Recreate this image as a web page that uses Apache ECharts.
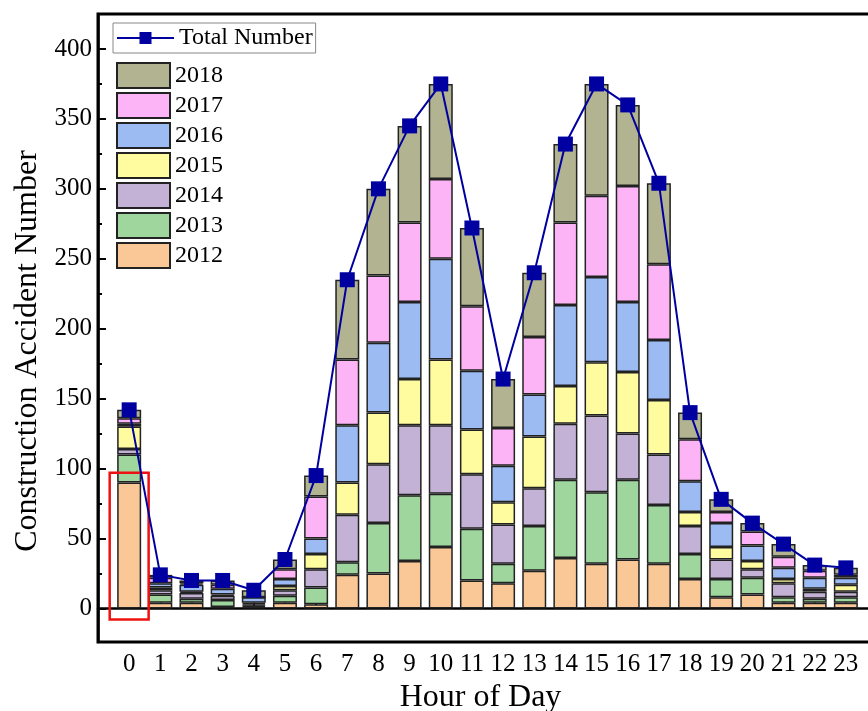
<!DOCTYPE html>
<html>
<head>
<meta charset="utf-8">
<script src="https://cdn.jsdelivr.net/npm/echarts@6/dist/echarts.min.js"></script>
<style>html,body{margin:0;padding:0;background:#fff;}#c{width:868px;height:711px;}</style>
</head>
<body>
<div id="c"></div>
<script>
const hours = ['0','1','2','3','4','5','6','7','8','9','10','11','12','13','14','15','16','17','18','19','20','21','22','23'];
const y2012 = [90,4,4,1,1,4,3,24,25,34,44,20,18,27,36,32,35,32,21,8,10,4,4,4];
const y2013 = [20,6,3,5,1,5,12,9,36,47,38,37,14,32,56,51,57,42,18,13,12,4,3,4];
const y2014 = [4,3,4,3,1,4,13,34,42,50,49,39,28,27,40,55,33,36,20,14,6,10,5,4];
const y2015 = [16,2,1,1,1,3,11,23,37,33,47,32,16,37,27,38,44,39,10,9,6,3,2,5];
const y2016 = [2,3,5,4,4,5,11,41,50,55,72,42,26,30,58,61,50,43,22,17,11,8,8,5];
const y2017 = [4,4,1,3,0,7,30,47,48,57,57,46,27,41,59,58,83,54,30,8,10,8,5,2];
const y2018 = [6,2,2,3,5,7,15,57,62,69,68,56,35,46,56,80,58,58,19,9,6,9,4,5];
const totals = [142,24,20,20,13,35,95,235,300,345,375,272,164,240,332,375,360,304,140,78,61,46,31,29];
const yMajorTicks = [0,50,100,150,200,250,300,350,400];
const yMinorTicks = [25,75,125,175,225,275,325,375];
const highlight = [['0', -8, 97]];

const years = ['2012','2013','2014','2015','2016','2017','2018'];
const yearData = [y2012,y2013,y2014,y2015,y2016,y2017,y2018];
const colors = ['#FAC896','#9ED69E','#C3B2D5','#FFFC9F','#9BBBF2','#FCB4F6','#B2B491'];

const xCats = [''].concat(hours, ['']);
const pad = arr => [null].concat(arr, [null]);
const FONT = 'Liberation Serif';

const series = years.map((y, i) => ({
  name: y, type: 'bar', stack: 'total', barWidth: 24, z: 2,
  data: pad(yearData[i]),
  itemStyle: { color: colors[i], borderColor: '#222', borderWidth: 1.5 }
}));
series.push({
  type: 'custom', z: 3, silent: true,
  data: highlight,
  encode: { x: 0, y: [1, 2] },
  renderItem: function (params, api) {
    const top = api.coord([api.value(0), api.value(2)]);
    const bot = api.coord([api.value(0), api.value(1)]);
    const w = api.size([1, 0])[0] * 1.25;
    return { type: 'rect', shape: { x: top[0] - w / 2, y: top[1], width: w, height: bot[1] - top[1] },
      style: { fill: 'none', stroke: '#EE1111', lineWidth: 2.5 } };
  }
});
series.push({
  name: 'Total Number', type: 'line', z: 5,
  data: pad(totals),
  symbol: 'rect', symbolSize: 15,
  itemStyle: { color: '#0000A0' },
  lineStyle: { color: '#0000A0', width: 2 }
});

const chart = echarts.init(document.getElementById('c'), null, { renderer: 'canvas' });
chart.setOption({
  animation: false,
  backgroundColor: '#fff',
  textStyle: { fontFamily: FONT, color: '#000' },
  grid: { left: 98, top: 14, width: 779, height: 628, outerBoundsMode: 'none', containLabel: false,
    show: true, borderColor: '#000', borderWidth: 3, backgroundColor: 'transparent' },
  legend: [
    { data: ['Total Number'], left: 113, top: 23, orient: 'vertical', itemWidth: 57, itemHeight: 15,
      padding: [3, 3, 3, 3], borderColor: '#888', borderWidth: 1, itemGap: 0,
      textStyle: { fontFamily: FONT, fontSize: 24, color: '#000' } },
    { data: ['2018','2017','2016','2015','2014','2013','2012'], left: 116, top: 62, orient: 'vertical',
      icon: 'rect', itemWidth: 53, itemHeight: 25, itemGap: 3, padding: 0,
      textStyle: { fontFamily: FONT, fontSize: 24, color: '#000', lineHeight: 26 } }
  ],
  xAxis: {
    type: 'category', data: xCats, boundaryGap: false,
    name: 'Hour of Day', nameLocation: 'middle', nameGap: 38,
    nameTextStyle: { fontFamily: FONT, fontSize: 32, color: '#000', padding: [0, 14, 0, 0] },
    axisLine: { lineStyle: { color: '#000', width: 2.5 } },
    axisTick: { inside: true, length: 6, lineStyle: { color: '#000', width: 2 }, interval: (i, v) => v !== '' },
    axisLabel: { interval: 0, margin: 10, fontFamily: FONT, fontSize: 25, color: '#000' },
    splitLine: { show: false }
  },
  yAxis: [
    {
      type: 'value', min: -24, max: 425,
      name: 'Construction Accident Number', nameLocation: 'middle', nameGap: 46,
      nameTextStyle: { fontFamily: FONT, fontSize: 32, color: '#000', padding: [0, 46, 0, 0] },
      axisLine: { show: true, lineStyle: { color: '#000', width: 2.5 } },
      axisTick: { show: true, inside: true, length: 8, customValues: yMajorTicks, lineStyle: { color: '#000', width: 2 } },
      axisLabel: { customValues: yMajorTicks, margin: 6, fontFamily: FONT, fontSize: 25, color: '#000' },
      splitLine: { show: false }
    },
    {
      type: 'value', min: -24, max: 425, position: 'left',
      axisLine: { show: false },
      axisTick: { show: true, inside: true, length: 4, customValues: yMinorTicks, lineStyle: { color: '#000', width: 2 } },
      axisLabel: { show: false },
      splitLine: { show: false }
    }
  ],
  series: series
});
</script>
</body>
</html>
